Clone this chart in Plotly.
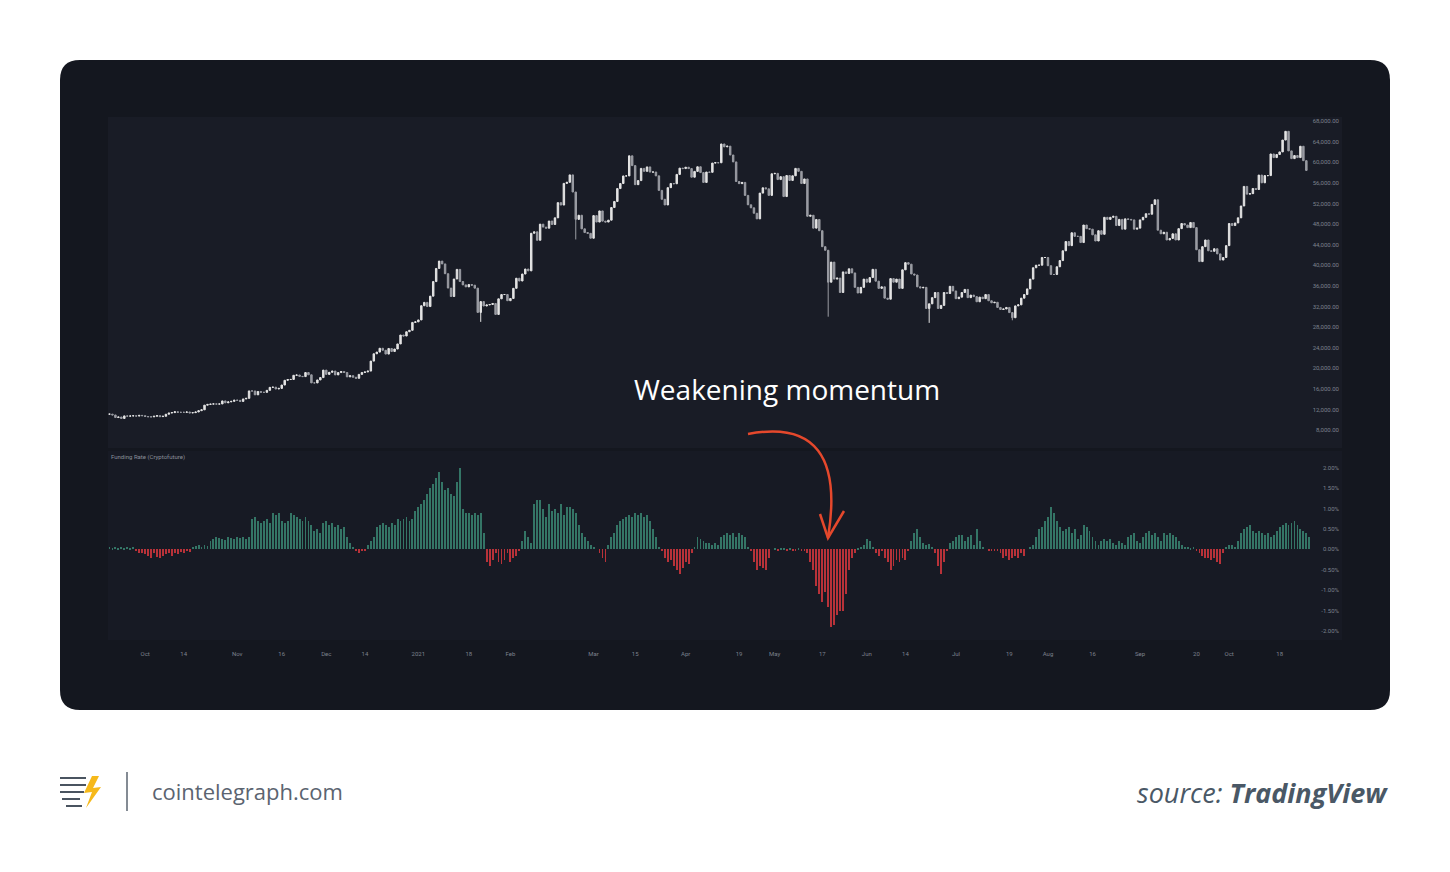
import plotly.graph_objects as go
import pandas as pd

W, H = 1434, 856
OFF = 8
start_date = "2020-09-19"

# Daily BTC closes, Sep 19 2020 -> Oct 27 2021
closes = [
11080,10920,10420,10530,10240,10740,10690,10730,10770,10700,10840,10780,
10620,10570,10550,10670,10790,10600,10670,11060,11300,11380,11540,11430,11430,11430,11500,11320,11370,11500,11750,11920,12820,12970,13030,13070,13030,13060,13650,13280,13460,13560,13800,
13760,13550,14030,14150,15590,15580,14830,15480,15330,15310,15700,16280,16320,15960,16080,16730,17650,17800,17820,18620,18680,18410,18370,19160,18720,17150,17140,17720,18180,19630,
18800,19200,19450,18700,19150,19360,19170,18320,18550,18250,18040,18800,19170,19270,19440,21380,22800,23130,23870,23480,22740,23830,23240,23730,24710,26440,26250,27080,27360,28890,29000,
29370,32130,32780,31970,33990,36820,39370,40800,40250,38350,35560,33920,37320,39190,36830,36180,35790,36250,36120,35550,30830,32940,32080,32290,32370,32570,30440,33470,34300,34310,33110,
33540,35510,37470,36930,38290,39260,38900,46200,46480,44840,47970,47400,47190,48580,47910,49200,52150,51680,55890,56100,57540,54210,48900,49700,47060,46340,46190,45240,
49630,48380,50540,48560,48380,48750,51200,52380,54880,55860,57330,57340,61240,59340,55640,56430,58800,58230,59090,58080,58100,57350,54530,52800,51700,55060,55870,55820,57630,58850,58760,
59030,58760,57090,58220,59120,57990,56070,58090,58040,59830,59920,59890,63540,62980,63120,61400,60060,56250,55840,56080,53560,51730,51140,50090,49000,54000,55030,54830,53560,57750,
57830,56630,57200,53330,57420,56460,57360,58800,58230,55860,56750,49500,49700,47200,48880,46700,43600,42900,36700,40600,37300,37500,34700,38700,38400,39300,38500,35700,34600,35700,37300,
36700,37600,39200,36900,35500,35800,33600,33400,37400,36700,37300,35500,39100,40500,40200,38300,38100,35800,35600,35700,31600,32500,33700,34700,31600,32200,34700,34500,35900,35000,
33500,33800,34700,35300,33700,34200,33900,32900,33800,33500,34300,33100,32700,32800,31800,31400,31500,31800,30800,29800,32100,32300,33600,34300,35400,37300,39500,40000,40000,41500,41500,
39900,38200,38200,39700,40900,42800,44600,43800,46300,45600,45600,44400,47800,47100,47000,45900,44700,46700,46000,49300,48900,49300,49500,47700,48900,47000,49000,48900,48800,47000,47200,
48800,49300,50000,49900,51800,52700,46800,46100,46400,44900,45200,46100,44900,47100,48100,47800,47300,48300,47300,43000,40700,43600,44900,42800,42700,43200,42200,41000,41500,43800,
48100,47700,48200,49200,51500,55300,53800,53900,54900,54700,57500,56000,57400,57400,61600,60900,61500,62000,64300,66000,62200,60700,61300,60900,63100,60300,58400,
]
# notable wick lows
wick_lows = {"2021-01-22": 29000, "2021-05-19": 30000, "2021-06-22": 28800, "2021-07-20": 29300, "2021-02-23": 45000}

# Funding rate (%), daily from Sep 19 2020
funding = [
0.05,0.04,0.06,0.03,0.05,0.04,0.06,0.03,0.05,
-0.05,-0.1,-0.08,-0.12,-0.15,-0.2,-0.1,-0.18,-0.2,-0.15,-0.12,-0.08,-0.15,-0.1,-0.12,-0.06,-0.1,-0.05,-0.07,
0.05,0.08,0.1,0.06,0.1,0.08,
0.2,0.25,0.3,0.28,0.25,0.22,0.3,0.28,0.25,0.3,0.28,0.3,0.25,0.3,
0.75,0.8,0.7,0.65,0.7,0.75,0.65,0.9,0.85,0.9,0.7,0.65,0.7,0.9,0.85,0.8,0.75,0.7,0.8,0.7,0.6,
0.45,0.5,0.4,0.65,0.7,0.6,0.65,0.55,0.6,0.5,0.55,0.3,0.15,0.05,
-0.05,-0.1,-0.05,-0.03,0.1,0.2,0.3,
0.55,0.6,0.65,0.6,0.55,0.65,0.6,0.75,0.7,0.75,0.8,0.7,0.75,
0.95,1.05,1.1,1.2,1.35,1.5,1.6,1.75,1.9,1.65,1.45,1.5,1.35,1.3,1.65,2.0,1.0,
0.9,0.88,0.85,0.88,0.85,0.88,0.4,
-0.3,-0.4,-0.25,-0.1,-0.3,-0.35,-0.25,-0.1,-0.3,-0.2,-0.15,-0.05,
0.2,0.45,0.3,0.15,1.1,1.2,1.2,
1.0,0.8,1.1,0.95,1.0,0.9,1.1,0.85,1.05,1.05,1.0,0.9,0.6,0.4,0.3,0.2,
0.1,0.05,0.0,-0.1,-0.2,-0.3,0.1,0.3,0.4,
0.6,0.7,0.75,0.8,0.85,0.8,0.9,0.85,0.9,0.8,0.85,0.7,0.5,0.3,0.05,-0.05,
-0.2,-0.3,-0.25,-0.4,-0.5,-0.6,-0.45,-0.3,-0.35,-0.1,
0.05,0.3,0.25,0.2,0.15,0.15,0.1,0.15,0.1,
0.3,0.35,0.4,0.35,0.4,0.3,0.4,0.35,0.3,0.05,
-0.05,-0.3,-0.5,-0.4,-0.45,-0.5,-0.2,
0.0,0.02,-0.05,0.03,0.02,-0.03,0.01,-0.02,-0.05,0.02,-0.03,
-0.05,-0.1,-0.3,-0.5,-0.9,-1.1,-1.3,-1.05,-1.4,-1.9,-1.85,-1.6,-1.5,-1.5,-1.1,
-0.5,-0.2,-0.1,0.02,0.05,0.1,0.25,0.2,0.05,-0.1,-0.15,-0.05,
-0.2,-0.3,-0.5,-0.4,-0.25,-0.3,-0.2,-0.25,-0.05,
0.2,0.4,0.5,0.3,0.15,0.1,0.12,0.05,
-0.1,-0.4,-0.6,-0.3,-0.05,
0.15,0.2,0.3,0.35,0.35,0.2,0.3,0.35,0.1,0.5,0.2,0.05,
0.0,-0.02,-0.05,-0.02,-0.03,-0.1,-0.2,-0.15,-0.25,-0.2,-0.15,-0.2,-0.1,-0.15,
0.0,0.05,0.1,0.3,0.5,0.55,0.7,0.8,1.05,0.9,0.7,
0.55,0.45,0.5,0.55,0.4,0.5,0.25,0.35,0.6,0.55,0.45,0.3,0.2,
0.1,0.2,0.25,0.2,0.25,0.15,0.1,0.2,0.15,0.1,0.3,0.35,0.4,
0.2,0.15,0.3,0.4,0.45,0.35,0.4,0.3,0.2,0.4,0.35,0.4,0.35,0.3,0.2,0.1,
0.05,0.05,0.03,0.05,-0.05,
-0.1,-0.15,-0.2,-0.2,-0.25,-0.2,-0.3,-0.35,-0.1,
0.05,0.1,0.1,0.05,0.2,0.4,0.5,0.55,0.6,0.45,
0.4,0.45,0.4,0.35,0.4,0.3,0.35,0.45,0.55,0.6,0.65,0.6,
0.65,0.7,0.6,0.5,0.45,0.4,0.3,
]

x_tick_dates = ["2020-10-01","2020-10-14","2020-11-01","2020-11-16","2020-12-01","2020-12-14",
                "2021-01-01","2021-01-18","2021-02-01","2021-03-01","2021-03-15","2021-04-01",
                "2021-04-19","2021-05-01","2021-05-17","2021-06-01","2021-06-14","2021-07-01",
                "2021-07-19","2021-08-01","2021-08-16","2021-09-01","2021-09-20","2021-10-01","2021-10-18"]
x_tick_text = ["Oct","14","Nov","16","Dec","14","2021","18","Feb","Mar","15","Apr","19","May","17",
               "Jun","14","Jul","19","Aug","16","Sep","20","Oct","18"]
price_ticks = [8000,12000,16000,20000,24000,28000,32000,36000,40000,44000,48000,52000,56000,60000,64000,68000]
fund_ticks = [-2.0,-1.5,-1.0,-0.5,0.0,0.5,1.0,1.5,2.0]

def fx(px): return (px - OFF) / W
def fy(py): return 1 - (py - OFF) / H

dates = pd.date_range(start_date, periods=len(closes), freq="D")
opens = [closes[0]] + closes[:-1]
highs = [max(o, c) for o, c in zip(opens, closes)]
lows = [min(o, c) for o, c in zip(opens, closes)]
for i, d in enumerate(dates):
    k = d.strftime("%Y-%m-%d")
    if k in wick_lows:
        lows[i] = wick_lows[k]

fdates = pd.date_range(start_date, periods=len(funding), freq="D")
fcolors = ["#347566" if v >= 0 else "#b83239" for v in funding]

fig = go.Figure()

fig.add_trace(go.Candlestick(
    x=dates, open=opens, high=highs, low=lows, close=closes,
    increasing=dict(line=dict(color="#e4e4e4", width=1), fillcolor="#e4e4e4"),
    decreasing=dict(line=dict(color="#9a9ca3", width=1), fillcolor="#9a9ca3"),
    whiskerwidth=0, xaxis="x", yaxis="y", showlegend=False, hoverinfo="skip"))

fig.add_trace(go.Bar(
    x=fdates, y=funding, marker=dict(color=fcolors, line=dict(width=0)),
    width=0.3 * 86400000, xaxis="x2", yaxis="y2", showlegend=False))

xr = ["2020-09-18 12:00", "2021-11-08"]
font_ax = dict(family="Roboto", size=6, color="#7d828e")

fig.update_layout(
    width=W, height=H, margin=dict(l=0, r=0, t=0, b=0),
    paper_bgcolor="white", plot_bgcolor="rgba(0,0,0,0)",
    bargap=0,
    xaxis=dict(domain=[fx(108), fx(1342)], range=xr, type="date", anchor="y",
               showticklabels=False, showgrid=False, zeroline=False,
               rangeslider=dict(visible=False), matches="x2"),
    yaxis=dict(domain=[fy(448), fy(117)], range=[4505, 68780], side="right",
               tickvals=price_ticks, ticktext=[f"{v:,.2f}" for v in price_ticks],
               ticklabelposition="inside", tickfont=font_ax, showgrid=False, zeroline=False),
    xaxis2=dict(domain=[fx(108), fx(1342)], range=xr, type="date", anchor="y2",
                tickvals=x_tick_dates, ticktext=x_tick_text, tickfont=font_ax,
                ticks="", ticklabelstandoff=9, showgrid=False, zeroline=False),
    yaxis2=dict(domain=[fy(640), fy(451)], range=[-2.22, 2.41], side="right",
                tickvals=fund_ticks, ticktext=[f"{v:.2f}%" for v in fund_ticks],
                ticklabelposition="inside", tickfont=font_ax, showgrid=False, zeroline=False),
)

def rrect(x0, y0, x1, y1, r):
    return (f"M {fx(x0+r)} {fy(y0)} L {fx(x1-r)} {fy(y0)} Q {fx(x1)} {fy(y0)} {fx(x1)} {fy(y0+r)} "
            f"L {fx(x1)} {fy(y1-r)} Q {fx(x1)} {fy(y1)} {fx(x1-r)} {fy(y1)} "
            f"L {fx(x0+r)} {fy(y1)} Q {fx(x0)} {fy(y1)} {fx(x0)} {fy(y1-r)} "
            f"L {fx(x0)} {fy(y0+r)} Q {fx(x0)} {fy(y0)} {fx(x0+r)} {fy(y0)} Z")

shapes = [
    dict(type="path", path=rrect(60, 60, 1390, 710, 20), xref="paper", yref="paper",
         fillcolor="#14171f", line=dict(width=0), layer="below"),
    dict(type="rect", x0=fx(108), x1=fx(1342), y0=fy(448), y1=fy(117), xref="paper", yref="paper",
         fillcolor="#191c26", line=dict(width=0), layer="below"),
    dict(type="rect", x0=fx(108), x1=fx(1342), y0=fy(640), y1=fy(451), xref="paper", yref="paper",
         fillcolor="#171a24", line=dict(width=0), layer="below"),
    # red arrow
    dict(type="path", path=f"M {fx(748)} {fy(434)} Q {fx(848)} {fy(415)} {fx(828)} {fy(538)}",
         xref="paper", yref="paper", line=dict(color="#e5482c", width=2.5)),
    dict(type="path", path=f"M {fx(820)} {fy(514)} L {fx(828)} {fy(538)} L {fx(844)} {fy(511)}",
         xref="paper", yref="paper", line=dict(color="#e5482c", width=2.5)),
    # footer divider
    dict(type="line", x0=fx(127), x1=fx(127), y0=fy(772), y1=fy(811), xref="paper", yref="paper",
         line=dict(color="#5b6470", width=1.5)),
    # logo: coin stack + bolt
    dict(type="path", path=f"M {fx(60)} {fy(778)} L {fx(86)} {fy(778)} M {fx(60)} {fy(785)} L {fx(86)} {fy(785)} "
         f"M {fx(60)} {fy(792)} L {fx(84)} {fy(792)} M {fx(62)} {fy(799)} L {fx(80)} {fy(799)} "
         f"M {fx(66)} {fy(806)} L {fx(82)} {fy(806)}", xref="paper", yref="paper",
         line=dict(color="#4a5460", width=2)),
    dict(type="path", path=f"M {fx(92)} {fy(776)} L {fx(84)} {fy(793)} L {fx(92)} {fy(792)} L {fx(86)} {fy(808)} "
         f"L {fx(101)} {fy(787)} L {fx(93)} {fy(788)} L {fx(99)} {fy(776)} Z", xref="paper", yref="paper",
         fillcolor="#f6b91a", line=dict(width=0)),
]

annotations = [
    dict(x=fx(787), y=fy(389), xref="paper", yref="paper", text="Weakening momentum", showarrow=False,
         font=dict(family="Open Sans", size=28, color="white"), xanchor="center", yanchor="middle"),
    dict(x=fx(109), y=fy(457), xref="paper", yref="paper", text="Funding Rate (Cryptofuture)", showarrow=False,
         font=dict(family="Roboto", size=6, color="#8a8f9a"), xanchor="left", yanchor="middle"),
    dict(x=fx(150), y=fy(791), xref="paper", yref="paper", text="cointelegraph.com", showarrow=False,
         font=dict(family="Open Sans", size=22, color="#5b6470"), xanchor="left", yanchor="middle"),
    dict(x=fx(1390), y=fy(792), xref="paper", yref="paper",
         text="<i>source: </i><b><i>TradingView</i></b>", showarrow=False,
         font=dict(family="Open Sans", size=27, color="#4a5866"), xanchor="right", yanchor="middle"),
]
fig.update_layout(shapes=shapes, annotations=annotations)

fig.write_html("out.html")
